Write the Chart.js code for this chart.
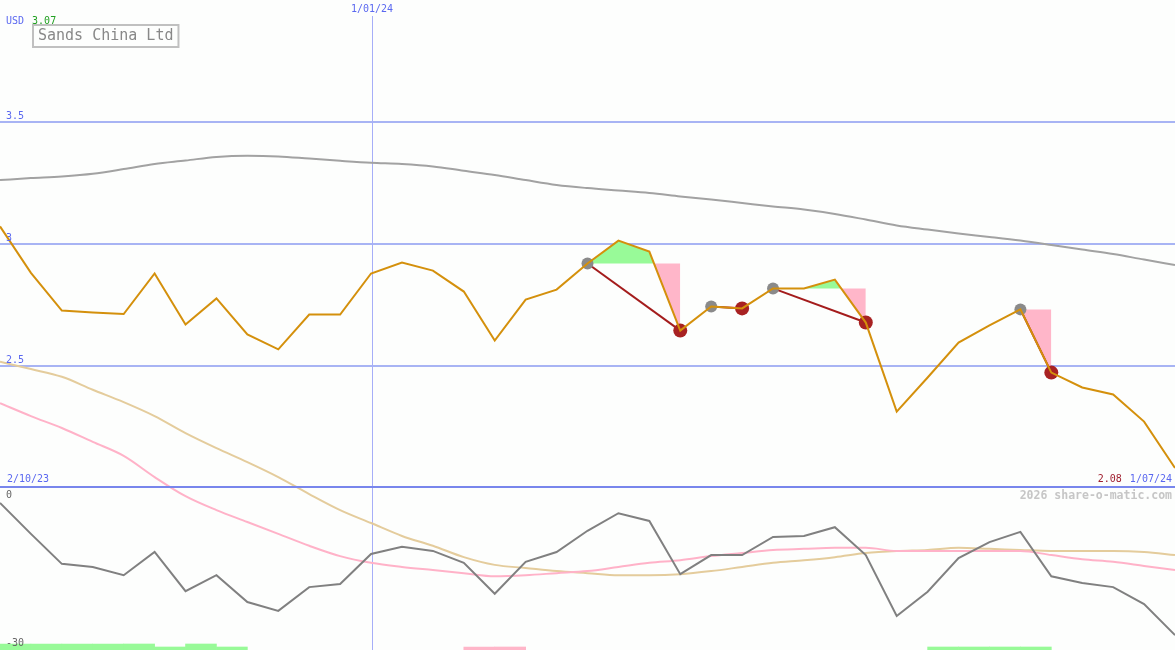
<!DOCTYPE html>
<html><head><meta charset="utf-8">
<script src="https://cdn.jsdelivr.net/npm/chart.js@4.4.1/dist/chart.umd.min.js"></script>
<style>html,body{margin:0;padding:0;background:#fdfefd;overflow:hidden}#wrap{width:1175px;height:650px;position:relative}</style>
</head><body><div id="wrap"><canvas id="c" width="1175" height="650"></canvas></div>
<script>
// ---------- data ----------
const title = 'Sands China Ltd';
const currency = 'USD';
const dateLabels = ['2/10/23', '1/01/24', '1/07/24'];
const dateIdx = [0, 12, 38];
const price = [3.07, 2.88, 2.725, 2.717, 2.711, 2.877, 2.668, 2.775, 2.627, 2.566, 2.709, 2.709, 2.877, 2.922, 2.889, 2.803, 2.602, 2.770, 2.811, 2.918, 3.012, 2.967, 2.643, 2.742, 2.734, 2.816, 2.816, 2.852, 2.676, 2.311, 2.451, 2.594, 2.664, 2.730, 2.471, 2.410, 2.381, 2.270, 2.08];
const priceMA = [3.260, 3.268, 3.275, 3.286, 3.305, 3.326, 3.340, 3.355, 3.360, 3.357, 3.348, 3.339, 3.331, 3.326, 3.316, 3.298, 3.281, 3.260, 3.240, 3.227, 3.217, 3.207, 3.193, 3.180, 3.166, 3.152, 3.139, 3.121, 3.098, 3.074, 3.057, 3.041, 3.027, 3.012, 2.994, 2.975, 2.957, 2.934, 2.912];
const indLine = [-2.3, -8.3, -14.1, -14.7, -16.3, -11.8, -19.4, -16.3, -21.5, -23.2, -18.6, -18.0, -12.2, -10.8, -11.6, -13.9, -19.9, -13.7, -11.8, -7.7, -4.3, -5.8, -16.1, -12.4, -12.4, -8.9, -8.7, -7.0, -12.4, -24.2, -19.5, -13.0, -9.9, -7.9, -16.5, -17.8, -18.6, -21.9, -27.9];
const indPink = [17.0, 14.5, 12.2, 9.5, 6.8, 2.7, -1.0, -3.7, -6.0, -8.3, -10.6, -12.6, -13.9, -14.7, -15.3, -15.9, -16.5, -16.3, -15.9, -15.5, -14.7, -13.9, -13.4, -12.6, -12.0, -11.4, -11.2, -11.0, -11.0, -11.6, -11.6, -11.6, -11.6, -11.6, -12.4, -13.2, -13.7, -14.5, -15.3];
const indTan = [25.0, 23.6, 22.1, 19.6, 17.2, 14.5, 11.2, 8.3, 5.6, 2.7, -0.6, -3.7, -6.2, -8.7, -10.6, -12.8, -14.3, -14.9, -15.5, -15.9, -16.3, -16.3, -16.1, -15.5, -14.7, -13.9, -13.4, -12.8, -12.0, -11.6, -11.4, -11.0, -11.2, -11.4, -11.6, -11.6, -11.6, -11.8, -12.4];
const priceTicks = [3.5, 3, 2.5];
const priceFloor = 2;
const indTicks = [0, -30];
const tradeEntry = [19, 23, 25, 33];
const tradeExit = [22, 24, 28, 34];
// signal strip per interval (i .. i+1): + green, - pink, magnitude = height level
const signal = [2,2,2,2,2,1,2,1,0,0,0,0,0,0,0,-1,-1,0,0,0,0,0,0,0,0,0,0,0,0,0,1,1,1,1,0,0,0,0];

// ---------- style / layout ----------
const W = 1175, H = 650;
const BG = '#fdfefd';
const ORANGE = '#d4900c', MAGRAY = '#a2a2a2', IND_GRAY = '#808080', IND_PINK = '#ffb2c8', IND_TAN = '#e4cc9c';
const GREEN = '#98fa98', PINK = '#ffb6c9', TRADE = '#a41c1c', EXITC = '#a82222', ENTRYC = '#8a8a8a';
const GRID = '#a8b4f4', SEP = '#7886ec', VLINE = '#a6aef8', LBL = '#5a68f0';
const MONO = '"DejaVu Sans Mono", monospace';
// price axis: 3.5 at px 121.5, 2.0 at px 487.5
const PPX = 244;
const yMax = 3.5 + 121.5 / PPX, yMin = 2 - (H - 487.5) / PPX;
// indicator axis: 0 at px 491, -30 at px 646
const IPX = 155 / 30;
const iMax = 491 / IPX, iMin = -(H - 491) / IPX;

const pts = arr => arr.map((v, i) => ({x: i, y: v}));

const datasets = [];
datasets.push({label: 'price', data: pts(price), borderColor: ORANGE, borderWidth: 2, pointRadius: 0, fill: false, order: 0, yAxisID: 'y'});
datasets.push({label: 'exit', data: tradeExit.map(i => ({x: i, y: price[i]})), showLine: false, pointRadius: 7, pointBackgroundColor: EXITC, pointBorderWidth: 0, borderColor: EXITC, order: 1, yAxisID: 'y'});
datasets.push({label: 'entry', data: tradeEntry.map(i => ({x: i, y: price[i]})), showLine: false, pointRadius: 6, pointBackgroundColor: ENTRYC, pointBorderWidth: 0, borderColor: ENTRYC, order: 2, yAxisID: 'y'});
tradeEntry.forEach((e, k) => {
  const x = tradeExit[k];
  datasets.push({label: 'trade' + k, data: [{x: e, y: price[e]}, {x: x, y: price[x]}], borderColor: TRADE, borderWidth: 2, pointRadius: 0, fill: false, order: 3, yAxisID: 'y'});
});
tradeEntry.forEach((e, k) => {
  const x = tradeExit[k];
  const d = [];
  for (let i = e; i <= x; i++) d.push({x: i, y: price[e]});
  datasets.push({label: 'level' + k, data: d, borderColor: 'rgba(0,0,0,0)', borderWidth: 1, pointRadius: 0,
    fill: {target: 0, above: PINK, below: GREEN}, order: 4, yAxisID: 'y'});
});
datasets.push({label: 'ma', data: pts(priceMA), borderColor: MAGRAY, borderWidth: 2, pointRadius: 0, fill: false, cubicInterpolationMode: 'monotone', order: 5, yAxisID: 'y'});
datasets.push({label: 'ind', data: pts(indLine), borderColor: IND_GRAY, borderWidth: 2, pointRadius: 0, fill: false, order: 6, yAxisID: 'yi'});
datasets.push({label: 'indPink', data: pts(indPink), borderColor: IND_PINK, borderWidth: 2, pointRadius: 0, fill: false, cubicInterpolationMode: 'monotone', order: 7, yAxisID: 'yi'});
datasets.push({label: 'indTan', data: pts(indTan), borderColor: IND_TAN, borderWidth: 2, pointRadius: 0, fill: false, cubicInterpolationMode: 'monotone', order: 8, yAxisID: 'yi'});
datasets.push({type: 'bar', label: 'signal', data: signal.map((v, i) => ({x: i + 0.5, y: v === 0 ? null : Math.abs(v)})),
  backgroundColor: signal.map(v => v >= 0 ? GREEN : PINK), borderWidth: 0, barPercentage: 1, categoryPercentage: 1,
  order: 9, yAxisID: 'ys'});

const deco = {
  id: 'deco',
  beforeDraw(chart) {
    const c = chart.ctx; c.save(); c.fillStyle = BG; c.fillRect(0, 0, chart.width, chart.height); c.restore();
  },
  beforeDatasetsDraw(chart) {
    const c = chart.ctx, xs = chart.scales.x, ys = chart.scales.y;
    c.save();
    c.fillStyle = GRID;
    priceTicks.forEach(v => { const p = Math.round(ys.getPixelForValue(v)); c.fillRect(0, p - 1, chart.width, 2); });
    c.fillStyle = VLINE;
    const vx = Math.ceil(xs.getPixelForValue(dateIdx[1]));
    c.fillRect(vx, 16, 1, chart.height - 16);
    c.restore();
  },
  afterDatasetsDraw(chart) {
    const c = chart.ctx, xs = chart.scales.x, ys = chart.scales.y, yi = chart.scales.yi;
    c.save();
    const sp = Math.round(ys.getPixelForValue(priceFloor));
    c.fillStyle = SEP; c.fillRect(0, sp - 2, chart.width, 2);
    c.textBaseline = 'middle';
    c.font = '10px ' + MONO;
    // price tick labels
    c.fillStyle = LBL; c.textAlign = 'left';
    priceTicks.forEach(v => c.fillText(String(v), 6, ys.getPixelForValue(v) - 5.5));
    // currency & first price
    c.fillText(currency, 6, 21);
    const cw = c.measureText(currency + ' ').width;
    c.fillStyle = '#22a022'; c.fillText(price[0].toFixed(2), 6 + cw + 2, 21);
    // date labels
    c.fillStyle = LBL;
    c.textAlign = 'center'; c.fillText(dateLabels[1], Math.ceil(xs.getPixelForValue(dateIdx[1])), 9);
    c.textAlign = 'left'; c.fillText(dateLabels[0], 7, sp - 9);
    c.textAlign = 'right'; c.fillText(dateLabels[2], 1172, sp - 9);
    const dw = c.measureText(dateLabels[2]).width;
    c.fillStyle = '#a02030'; c.fillText(price[price.length - 1].toFixed(2), 1172 - dw - 8, sp - 9);
    // indicator labels
    c.fillStyle = '#666666'; c.textAlign = 'left';
    c.fillText(String(indTicks[0]), 6, yi.getPixelForValue(indTicks[0]) + 4);
    c.fillText(String(indTicks[1]), 6, yi.getPixelForValue(indTicks[1]) - 3);
    // watermark
    c.font = 'bold 11.5px ' + MONO; c.fillStyle = '#c6c6c6'; c.textAlign = 'right';
    c.fillText('2026 share-o-matic.com', 1172, sp + 8);
    // title box
    c.font = '15px ' + MONO; c.textAlign = 'left';
    const tw = c.measureText(title).width;
    c.strokeStyle = '#c0c0c0'; c.lineWidth = 2;
    c.strokeRect(33, 25, tw + 10, 22);
    c.fillStyle = '#888888'; c.fillText(title, 38, 36.5);
    c.restore();
  }
};

new Chart(document.getElementById('c'), {
  type: 'line',
  data: {datasets},
  options: {
    responsive: false, animation: false, events: [],
    layout: {padding: 0, autoPadding: false},
    plugins: {legend: {display: false}, tooltip: {enabled: false}},
    elements: {line: {tension: 0}},
    scales: {
      x: {type: 'linear', min: 0, max: 38, offset: false, display: false, grid: {offset: false}},
      y: {type: 'linear', min: yMin, max: yMax, display: false},
      yi: {type: 'linear', min: iMin, max: iMax, display: false},
      ys: {type: 'linear', min: 0, max: H / 3, display: false, beginAtZero: true}
    }
  },
  plugins: [deco]
});
</script></body></html>
